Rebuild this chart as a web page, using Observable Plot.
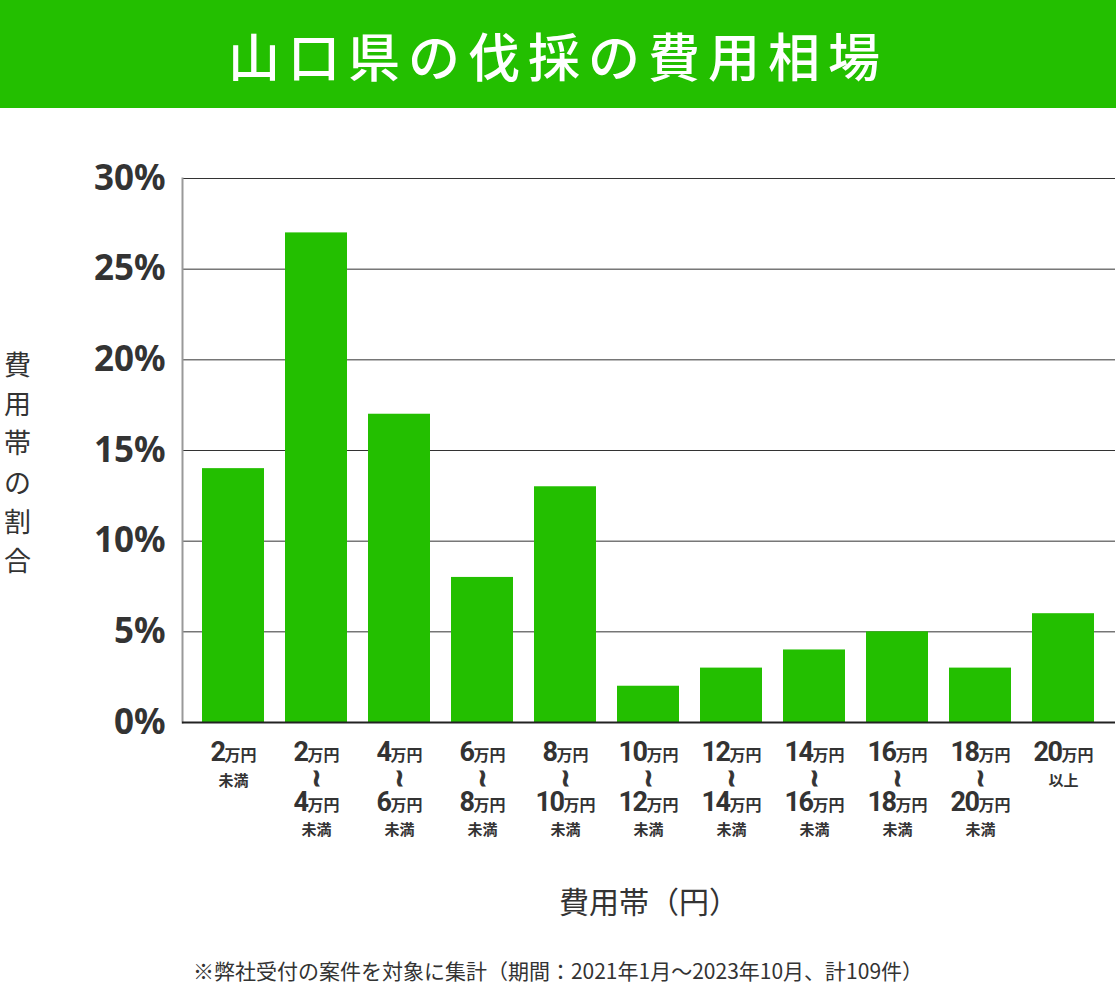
<!DOCTYPE html>
<html>
<head>
<meta charset="utf-8">
<script src="https://cdn.jsdelivr.net/npm/d3@7"></script>
<script src="https://cdn.jsdelivr.net/npm/@observablehq/plot@0.6"></script>
<style>
  html, body { margin: 0; padding: 0; background: #fff; }
  #wrap { position: relative; width: 1116px; height: 989px; overflow: hidden; font-family: "Noto Sans CJK JP", sans-serif; }
  #header { position: absolute; left: 0; top: 0; width: 1116px; height: 108px; background: #23bf00; color: #fff;
    font-family: "Noto Sans CJK JP", sans-serif; font-weight: 500; font-size: 52px; letter-spacing: 8px;
    display: flex; align-items: center; justify-content: center; }
  #chart { position: absolute; left: 0; top: 108px; }
  #caption { position: absolute; left: 0; top: 957px; width: 1116px; text-align: center; font-size: 21px; color: #333; line-height: 26px; }
</style>
</head>
<body>
<div id="wrap">
  <div id="header">山口県の伐採の費用相場</div>
  <div id="chart"></div>
  <div id="caption">※弊社受付の案件を対象に集計（期間：2021年1月～2023年10月、計109件）</div>
</div>
<script>
const title = "山口県の伐採の費用相場";
const categories = ["c1","c2","c3","c4","c5","c6","c7","c8","c9","c10","c11"];
const tickLabels = [
  "2万円\n未満",
  "2万円\n≀\n4万円\n未満",
  "4万円\n≀\n6万円\n未満",
  "6万円\n≀\n8万円\n未満",
  "8万円\n≀\n10万円\n未満",
  "10万円\n≀\n12万円\n未満",
  "12万円\n≀\n14万円\n未満",
  "14万円\n≀\n16万円\n未満",
  "16万円\n≀\n18万円\n未満",
  "18万円\n≀\n20万円\n未満",
  "20万円\n以上"
];
const shares = [14, 27, 17, 8, 13, 2, 3, 4, 5, 3, 6];
const yTicks = [0, 5, 10, 15, 20, 25, 30];
const yLabel = "費用帯の割合";
const xLabel = "費用帯（円）";

const data = categories.map((c, i) => ({cat: c, value: shares[i]}));
const labelMap = new Map(categories.map((c, i) => [c, tickLabels[i]]));

const chart = Plot.plot({
  width: 1116,
  height: 832,
  marginLeft: 182,
  marginRight: 1,
  marginTop: 70,
  marginBottom: 218,
  style: {fontFamily: "'Noto Sans CJK JP', sans-serif", color: "#333", background: "transparent"},
  x: {domain: categories, paddingInner: 0.253, paddingOuter: 0.24, label: null},
  y: {domain: [0, 30], label: null},
  marks: [
    Plot.gridY(yTicks.filter(d => d > 0), {stroke: "#333", strokeOpacity: 1, strokeWidth: 1}),
    Plot.barY(data, {x: "cat", y: "value", fill: "#23bf00"}),
    Plot.frame({anchor: "left", stroke: "#999", strokeWidth: 2}),
    Plot.ruleY([0], {stroke: "#222", strokeWidth: 2}),
    Plot.axisY({ticks: yTicks, tickSize: 0, tickPadding: 17, tickFormat: d => d + "%",
      fontSize: 35, fontWeight: 700, fontFamily: "'Noto Sans', sans-serif", label: null, fill: "#333"}),
    Plot.axisX({tickSize: 0, tickPadding: 21, tickFormat: d => labelMap.get(d), fontSize: 15,
      fontWeight: 700, lineHeight: 1.65, label: null, fill: "#333"}),
    Plot.text([yLabel.split("").join("\n")], {frameAnchor: "left", dx: -165, dy: 10, lineHeight: 1.45,
      fontSize: 27, fill: "#333", textAnchor: "middle"}),
    Plot.text([xLabel], {frameAnchor: "bottom", dy: 190, fontSize: 30, fill: "#333"})
  ]
});

// style the x tick labels: numbers large, 万円 smaller, wavy dash line heavier
d3.select(chart).selectAll("g[aria-label='x-axis tick label'] tspan").each(function() {
  const t = this.textContent;
  const m = t.match(/^(\d+)(万円)$/);
  if (m) {
    this.textContent = "";
    const a = document.createElementNS("http://www.w3.org/2000/svg", "tspan");
    a.setAttribute("font-size", "27");
    a.setAttribute("font-family", "Roboto, sans-serif");
    a.setAttribute("letter-spacing", "-1.5");
    a.textContent = m[1];
    const b = document.createElementNS("http://www.w3.org/2000/svg", "tspan");
    b.setAttribute("font-size", "16");
    b.textContent = m[2];
    this.appendChild(a);
    this.appendChild(b);
  } else if (t === "≀") {
    this.textContent = "";
    const a = document.createElementNS("http://www.w3.org/2000/svg", "tspan");
    a.setAttribute("font-size", "24");
    a.setAttribute("font-family", "'DejaVu Sans', sans-serif");
    a.setAttribute("stroke", "#333");
    a.setAttribute("stroke-width", "1");
    a.textContent = "≀";
    this.appendChild(a);
  }
});

document.getElementById("chart").appendChild(chart);
</script>
</body>
</html>
